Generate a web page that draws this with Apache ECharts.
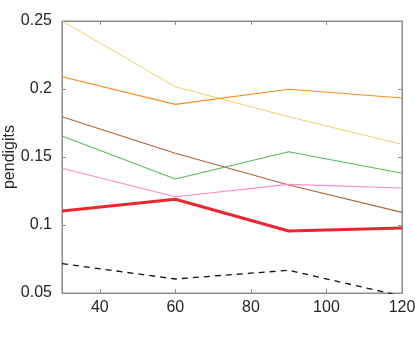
<!DOCTYPE html>
<html>
<head>
<meta charset="utf-8">
<script src="https://cdn.jsdelivr.net/npm/echarts@6/dist/echarts.min.js"></script>
<style>
  html, body { margin: 0; padding: 0; background: #fff; }
  #chart { width: 415px; height: 340px; }
</style>
</head>
<body>
<div id="chart"></div>
<script>
const xValues = [30, 60, 90, 120]
const xTicks = [40, 60, 80, 100, 120]
const yTicks = [0.05, 0.1, 0.15, 0.2, 0.25]

const yellowVals = [0.250, 0.2017, 0.1796, 0.1593]
const orangeVals = [0.209, 0.1887, 0.1998, 0.1934]
const brownVals = [0.1796, 0.1527, 0.1294, 0.1093]
const greenVals = [0.1654, 0.1338, 0.1539, 0.138]
const pinkVals = [0.1417, 0.1208, 0.1299, 0.1272]
const redVals = [0.1103, 0.1189, 0.0956, 0.0978]
const blackVals = [0.0716, 0.0603, 0.0667, 0.0477]

const font = 'Liberation Sans, Arial, sans-serif'
const axisGray = '#8c8c8c'

const makeLine = (vals, color, width, dashed) => ({
  type: 'line',
  data: xValues.map((x, i) => [x, vals[i]]),
  symbol: 'none',
  clip: true,
  lineStyle: { color: color, width: width, type: dashed ? [6, 5] : 'solid' },
  z: 3
})

// ticks point into the plot, like the reference frame
const frameX = (pos, showLabel) => ({
  type: 'value',
  position: pos,
  min: 30,
  max: 120,
  axisLine: { show: true, onZero: false, lineStyle: { color: axisGray, width: 1 } },
  axisTick: { show: true, inside: false, length: -4, customValues: xTicks, lineStyle: { color: axisGray } },
  axisLabel: { show: showLabel, customValues: xTicks, color: '#262626', fontSize: 16, fontFamily: font, margin: 7 },
  splitLine: { show: false }
})

const frameY = (pos, showLabel) => ({
  type: 'value',
  position: pos,
  min: 0.05,
  max: 0.25,
  axisLine: { show: true, onZero: false, lineStyle: { color: axisGray, width: 1 } },
  axisTick: { show: true, inside: false, length: -4, customValues: yTicks, lineStyle: { color: axisGray } },
  axisLabel: { show: showLabel, customValues: yTicks, color: '#262626', fontSize: 16, fontFamily: font, margin: 10,
    formatter: v => String(Math.round(v * 100) / 100) },
  splitLine: { show: false }
})

const chart = echarts.init(document.getElementById('chart'))
const yLeft = frameY('left', true)
yLeft.name = 'pendigits'
yLeft.nameLocation = 'middle'
yLeft.nameRotate = 90
yLeft.nameGap = 44
yLeft.nameMoveOverlap = false
yLeft.nameTextStyle = { color: '#262626', fontSize: 16, fontFamily: font }

chart.setOption({
  animation: false,
  backgroundColor: '#fff',
  grid: {
    left: 62, right: 13, top: 21, bottom: 47,
    outerBoundsMode: 'none', containLabel: false,
    show: true, borderColor: axisGray, borderWidth: 1, backgroundColor: 'transparent'
  },
  xAxis: [frameX('bottom', true), frameX('top', false)],
  yAxis: [yLeft, frameY('right', false)],
  series: [
    makeLine(yellowVals, '#e6d46c', 1),
    makeLine(orangeVals, '#ff8a1c', 1.2),
    makeLine(brownVals, '#b0623a', 1.1),
    makeLine(greenVals, '#5cb85a', 1.1),
    makeLine(pinkVals, '#f78cc4', 1.1),
    makeLine(redVals, '#e8282e', 3),
    makeLine(blackVals, '#111', 1.3, true)
  ]
})
</script>
</body>
</html>
